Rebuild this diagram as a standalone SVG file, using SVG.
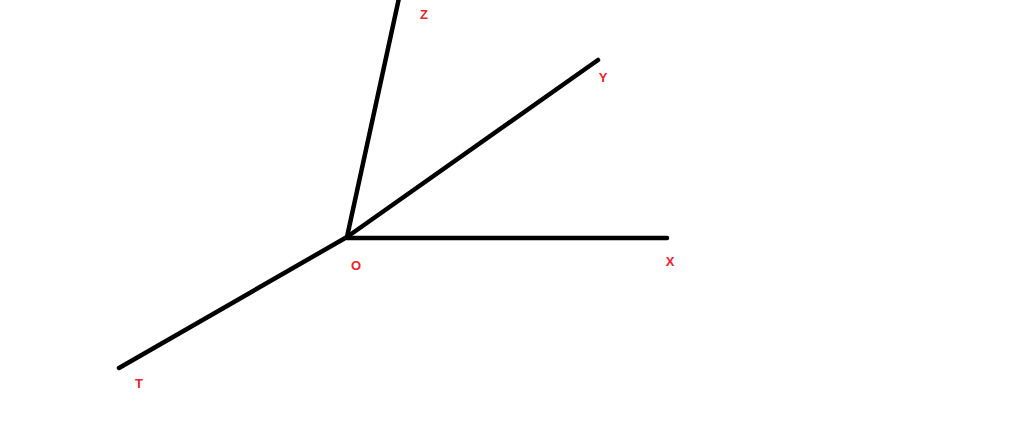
<svg xmlns="http://www.w3.org/2000/svg" width="1024" height="445" viewBox="0 0 1024 445">
<style>
.ax{stroke:#000;stroke-width:4.5;stroke-linecap:round;fill:none}
.lb{fill:#e8242e;font-family:"Liberation Sans",Arial,sans-serif;font-size:13px;font-weight:bold;text-anchor:middle}
</style>
<rect width="1024" height="445" fill="#fff"/>
<g id="connectors">
<line class="ax" x1="347" y1="237" x2="399" y2="-2"/>
<line class="ax" x1="347" y1="237" x2="598" y2="60"/>
<line class="ax" x1="347" y1="238" x2="667" y2="238"/>
<line class="ax" x1="347" y1="237" x2="119" y2="368"/>
</g>
<g id="O"><text class="lb" x="356" y="270">O</text></g>
<g id="Z"><text class="lb" x="424" y="19">Z</text></g>
<g id="Y"><text class="lb" x="603" y="82">Y</text></g>
<g id="X"><text class="lb" x="670" y="266">X</text></g>
<g id="T"><text class="lb" x="139" y="388">T</text></g>
</svg>
